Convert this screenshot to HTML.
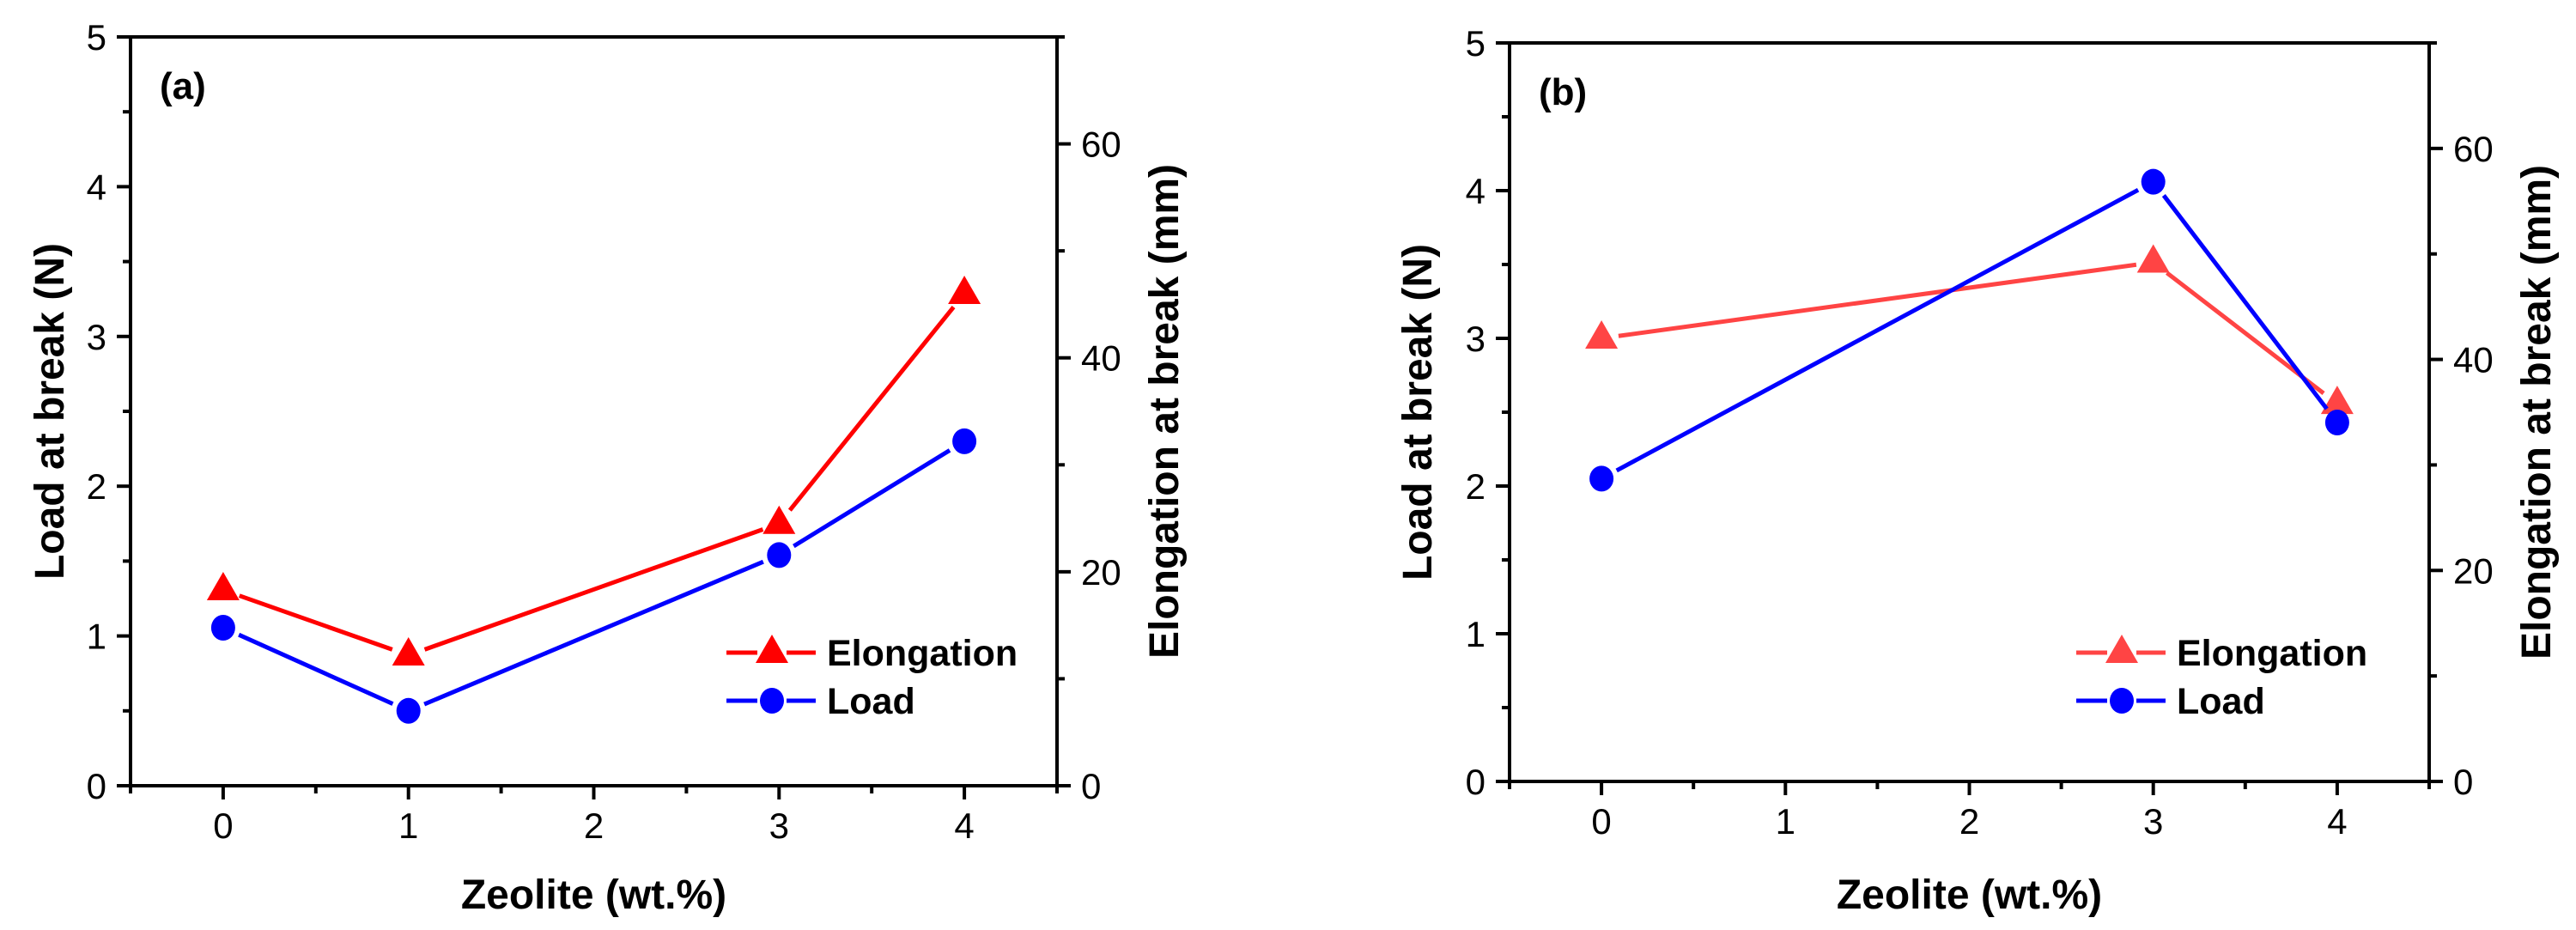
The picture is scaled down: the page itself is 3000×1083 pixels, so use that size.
<!DOCTYPE html>
<html><head><meta charset="utf-8"><style>
html,body{margin:0;padding:0;background:#fff;}
svg{display:block;}
text{font-family:"Liberation Sans",Arial,sans-serif;fill:#000;}
</style></head><body>
<svg id="chart" width="3000" height="1083" viewBox="0 0 3000 1083" xmlns="http://www.w3.org/2000/svg"></svg>
<script>
// Panel (a) data
const catsA = [0, 1, 3, 4];
const loadA = [1.055, 0.5, 1.54, 2.30];
const elongA = [18.3, 12.2, 24.5, 46.0];
// Panel (b) data
const catsB = [0, 3, 4];
const loadB = [2.05, 4.06, 2.43];
const elongB = [42.0, 49.2, 35.8];
// ticks
const xTicks = ['0', '1', '2', '3', '4'];
const leftTicks = ['0', '1', '2', '3', '4', '5'];
const rightTicks = ['0', '20', '40', '60'];

const NS = 'http://www.w3.org/2000/svg';
const svg = document.getElementById('chart');
function mk(tag, attrs, parent) {
  const e = document.createElementNS(NS, tag);
  for (const k in attrs) e.setAttribute(k, attrs[k]);
  (parent || svg).appendChild(e);
  return e;
}

function panel(cfg) {
  const g = mk('g', {});
  
  
  const L = cfg.left, R = cfg.right, T = cfg.top, B = cfg.bottom;
  const xs = v => L + (v + 0.5) / 5 * (R - L);
  const yl = v => B - v / 5 * (B - T);
  const yr = v => B - v / 70 * (B - T);

  const ax = mk('path', {d: `M${L},${T} L${L},${B} L${R},${B} L${R},${T} M${L-2},${T} L${R+2},${T}`, fill: 'none', stroke: '#000', 'stroke-width': 4}, g);
  
  

  for (let v = -0.5; v <= 4.51; v += 0.5) {
    const major = Math.abs(v - Math.round(v)) < 0.01;
    mk('line', {x1: xs(v), y1: B, x2: xs(v), y2: B + (major ? 16 : 9), stroke: '#000', 'stroke-width': 4}, g);
  }
  xTicks.forEach((t, i) => {
    const tx = mk('text', {x: xs(+t), y: B + 61, 'font-size': 42, 'text-anchor': 'middle'}, g);
    tx.textContent = t;
    
    
  });
  for (let v = 0; v <= 5.01; v += 0.5) {
    const major = Math.abs(v - Math.round(v)) < 0.01;
    mk('line', {x1: L, y1: yl(v), x2: L - (major ? 16 : 9), y2: yl(v), stroke: '#000', 'stroke-width': 4}, g);
  }
  leftTicks.forEach(t => {
    const tx = mk('text', {x: L - 28, y: yl(+t) + 15, 'font-size': 42, 'text-anchor': 'end'}, g);
    tx.textContent = t;
    
    
  });
  for (let v = 0; v <= 70; v += 10) {
    const major = v % 20 === 0;
    mk('line', {x1: R, y1: yr(v), x2: R + (major ? 16 : 9), y2: yr(v), stroke: '#000', 'stroke-width': 4}, g);
  }
  rightTicks.forEach(t => {
    const tx = mk('text', {x: R + 28, y: yr(+t) + 15, 'font-size': 42, 'text-anchor': 'start'}, g);
    tx.textContent = t;
    
    
  });

  const cy = (T + B) / 2;
  const lt = mk('text', {x: 0, y: 0, 'font-size': 48, 'font-weight': 'bold', 'text-anchor': 'middle', transform: `translate(${cfg.leftTitleX},${cy}) rotate(-90)`}, g);
  lt.textContent = 'Load at break (N)';
  
  
  const rt = mk('text', {x: 0, y: 0, 'font-size': 48, 'font-weight': 'bold', 'text-anchor': 'middle', transform: `translate(${cfg.rightTitleX},${cy}) rotate(-90)`}, g);
  rt.textContent = 'Elongation at break (mm)';
  
  
  const xt = mk('text', {x: (L + R) / 2, y: 1058, 'font-size': 48, 'font-weight': 'bold', 'text-anchor': 'middle'}, g);
  xt.textContent = 'Zeolite (wt.%)';
  
  
  const pl = mk('text', {x: L + 34, y: cfg.labelY, 'font-size': 44, 'font-weight': 'bold'}, g);
  pl.textContent = cfg.label;
  
  

  function series(xv, yv, ys, color, kind, name) {
    const sg = mk('g', {}, g);
    
    
    const pts = xv.map((x, i) => [xs(x), ys(yv[i])]);
    for (let i = 0; i < pts.length - 1; i++) {
      const [x1, y1] = pts[i], [x2, y2] = pts[i + 1];
      const d = Math.hypot(x2 - x1, y2 - y1), gap = 20;
      const ux = (x2 - x1) / d, uy = (y2 - y1) / d;
      mk('line', {x1: x1 + ux * gap, y1: y1 + uy * gap, x2: x2 - ux * gap, y2: y2 - uy * gap, stroke: color, 'stroke-width': 5}, sg);
    }
    pts.forEach(([x, y]) => marker(sg, x, y, color, kind));
  }
  series(cfg.cats, cfg.elong, yr, cfg.red, 'tri', 'elongation-series');
  series(cfg.cats, cfg.load, yl, '#0000ff', 'circ', 'load-series');

  const lg = mk('g', {}, g);
  
  
  [[cfg.red, 'tri', 'Elongation', 760], ['#0000ff', 'circ', 'Load', 816]].forEach(([c, k, lab, y]) => {
    const eg = mk('g', {}, lg);
    
    
    mk('line', {x1: cfg.legX, y1: y, x2: cfg.legX + 36, y2: y, stroke: c, 'stroke-width': 5}, eg);
    mk('line', {x1: cfg.legX + 70, y1: y, x2: cfg.legX + 104, y2: y, stroke: c, 'stroke-width': 5}, eg);
    marker(eg, cfg.legX + 53, y, c, k);
    const t = mk('text', {x: cfg.legX + 117, y: y + 15, 'font-size': 43, 'font-weight': 'bold'}, eg);
    t.textContent = lab;
  });
}

function marker(parent, x, y, color, kind) {
  if (kind === 'tri') {
    mk('polygon', {points: `${x},${y - 21} ${x - 19},${y + 12} ${x + 19},${y + 12}`, fill: color}, parent);
  } else {
    mk('ellipse', {cx: x, cy: y, rx: 14, ry: 15, fill: color}, parent);
  }
}

panel({name: 'panel-a', left: 152, right: 1231, top: 43, bottom: 915, cats: catsA, load: loadA, elong: elongA,
  red: '#ff0000', leftTitleX: 74, rightTitleX: 1372, label: '(a)', labelY: 115, legX: 846});
panel({name: 'panel-b', left: 1758, right: 2829, top: 50, bottom: 910, cats: catsB, load: loadB, elong: elongB,
  red: '#ff4444', leftTitleX: 1667, rightTitleX: 2970, label: '(b)', labelY: 122, legX: 2418});
</script>
</body></html>
